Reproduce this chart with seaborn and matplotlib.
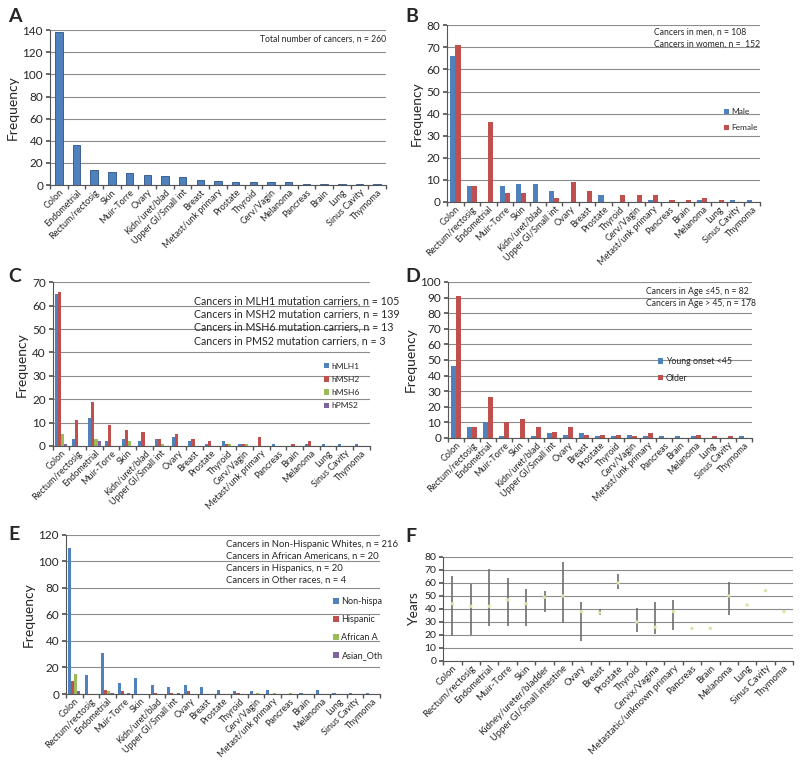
import numpy as np
import pandas as pd
import matplotlib
matplotlib.use("Agg")
import matplotlib.pyplot as plt
import seaborn as sns

# ========================
# Data
# ========================

cats_a = ["Colon", "Endometrial", "Rectum/rectosig", "Skin", "Muir-Torre", "Ovary",
          "Kidn/uret/blad", "Upper GI/Small int", "Breast", "Metast/unk primary",
          "Prostate", "Thyroid", "Cerv/Vagin", "Melanoma", "Pancreas", "Brain",
          "Lung", "Sinus Cavity", "Thymoma"]
total_a = [138, 36, 14, 12, 11, 9, 8, 7, 5, 4, 3, 3, 3, 3, 1, 1, 1, 1, 1]

cats = ["Colon", "Rectum/rectosig", "Endometrial", "Muir-Torre", "Skin",
        "Kidn/uret/blad", "Upper GI/Small int", "Ovary", "Breast", "Prostate",
        "Thyroid", "Cerv/Vagin", "Metast/unk primary", "Pancreas", "Brain",
        "Melanoma", "Lung", "Sinus Cavity", "Thymoma"]

male = [66, 7, 0, 7, 8, 8, 5, 0, 0, 3, 0, 0, 1, 0, 0, 1, 0, 1, 1]
female = [71, 7, 36, 4, 4, 0, 2, 9, 5, 0, 3, 3, 3, 1, 1, 2, 1, 0, 0]

mlh1 = [65, 3, 12, 2, 3, 2, 3, 4, 2, 1, 2, 1, 0, 1, 0, 1, 1, 1, 1]
msh2 = [66, 11, 19, 9, 7, 6, 3, 5, 3, 2, 1, 1, 4, 0, 1, 2, 0, 0, 0]
msh6 = [5, 0, 3, 0, 2, 0, 1, 0, 0, 0, 1, 1, 0, 0, 0, 0, 0, 0, 0]
pms2 = [1, 0, 2, 0, 0, 0, 0, 0, 0, 0, 0, 0, 0, 0, 0, 0, 0, 0, 0]

young = [46, 7, 10, 1, 0, 1, 3, 2, 3, 1, 1, 2, 1, 1, 1, 1, 0, 0, 1]
older = [91, 7, 26, 10, 12, 7, 4, 7, 2, 2, 2, 1, 3, 0, 0, 2, 1, 1, 0]

non_hisp = [110, 14, 31, 8, 12, 7, 5, 7, 5, 3, 2, 2, 3, 0, 1, 3, 1, 1, 1]
hispanic = [10, 0, 3, 2, 0, 1, 1, 2, 0, 0, 1, 0, 0, 0, 0, 0, 0, 0, 0]
african = [15, 0, 2, 0, 0, 0, 0, 0, 0, 0, 0, 1, 1, 1, 0, 0, 0, 0, 0]
asian_oth = [2, 0, 1, 1, 0, 0, 1, 0, 0, 0, 0, 0, 0, 0, 0, 0, 0, 0, 0]

cats_f = ["Colon", "Rectum/rectosig", "Endometrial", "Muir-Torre", "Skin",
          "Kidney/ureter/bladder", "Upper GI/Small intestine", "Ovary", "Breast",
          "Prostate", "Thyroid", "Cervix/Vagina", "Metastatic/unknown primary",
          "Pancreas", "Brain", "Melanoma", "Lung", "Sinus Cavity", "Thymoma"]
age_min = [19, 20, 27, 27, 27, 38, 29, 15, 35, 55, 22, 21, 24, 25, 25, 35, 43, 54, 38]
age_max = [65, 59, 71, 64, 55, 54, 76, 45, 40, 67, 41, 45, 47, 25, 25, 61, 43, 54, 38]
age_med = [44, 42, 42, 47, 44, 49, 50, 38, 37, 60, 30, 26, 38, 25, 25, 50, 43, 54, 38]

BLUE, RED, GREEN, PURPLE = "#4F81BD", "#C0504D", "#9BBB59", "#8064A2"

sns.set_theme(style="white")
plt.rcParams["font.family"] = ["Lato", "DejaVu Sans"]

fig = plt.figure(figsize=(8, 7.65), dpi=100)


def style_axis(ax, ymax, ystep, ylabel="Frequency", xfont=6.5, yfont=8.5):
    n = len(ax.get_xticks())
    ax.set_xlim(-0.5, n - 0.5)
    ax.set_ylim(0, ymax)
    ax.set_yticks(np.arange(0, ymax + 1, ystep))
    ax.yaxis.grid(True, color="#8c8c8c", lw=0.8)
    ax.xaxis.grid(False)
    ax.set_axisbelow(True)
    for s in ["top", "right"]:
        ax.spines[s].set_visible(False)
    for s in ["left", "bottom"]:
        ax.spines[s].set_color("#555555")
        ax.spines[s].set_linewidth(0.8)
    ax.set_xticks(np.arange(-0.5, n), minor=True)
    ax.tick_params(axis="x", which="major", length=0, pad=2)
    ax.tick_params(axis="x", which="minor", length=3, color="#555555", direction="out", bottom=True)
    ax.tick_params(axis="y", length=3, color="#555555", direction="out", left=True,
                   labelsize=yfont, pad=2)
    for lab in ax.get_xticklabels():
        lab.set_rotation(45)
        lab.set_ha("right")
        lab.set_rotation_mode("anchor")
        lab.set_fontsize(xfont)
    ax.set_xlabel("")
    ax.set_ylabel(ylabel, fontsize=10, labelpad=3)


def grouped(ax, series, names, colors, width):
    df = pd.DataFrame({"cat": np.tile(cats, len(series)),
                       "grp": np.repeat(names, len(cats)),
                       "val": np.concatenate(series)})
    sns.barplot(data=df, x="cat", y="val", hue="grp", order=cats, hue_order=names,
                palette=colors, width=width, saturation=1, ax=ax, legend=True,
                edgecolor="none")


def legend(ax, x, y, spacing=0.9, size=6.5):
    leg = ax.legend(loc="upper left", bbox_to_anchor=(x, y), frameon=False,
                    fontsize=size, handlelength=0.6, handleheight=0.6,
                    handletextpad=0.3, labelspacing=spacing, borderaxespad=0)
    return leg


# ---- A
ax = fig.add_axes([0.0625, 0.758, 0.42, 0.2026])
sns.barplot(x=cats_a, y=total_a, color=BLUE, saturation=1, width=0.42, ax=ax,
            edgecolor="#2c5282", linewidth=0.6)
style_axis(ax, 140, 20)
ax.text(1.0, 0.97, "Total number of cancers, n = 260", transform=ax.transAxes,
        ha="right", va="top", fontsize=6.2)

# ---- B
ax = fig.add_axes([0.559, 0.736, 0.391, 0.231])
grouped(ax, [male, female], ["Male", "Female"], [BLUE, RED], 0.62)
style_axis(ax, 80, 10)
legend(ax, 0.875, 0.55, 1.1, 6)
ax.text(0.66, 0.985, "Cancers in men, n = 108\nCancers in women, n =  152",
        transform=ax.transAxes, ha="left", va="top", fontsize=6.2, linespacing=1.45)

# ---- C
ax = fig.add_axes([0.066, 0.417, 0.396, 0.214])
grouped(ax, [mlh1, msh2, msh6, pms2], ["hMLH1", "hMSH2", "hMSH6", "hPMS2"],
        [BLUE, RED, GREEN, PURPLE], 0.75)
style_axis(ax, 70, 10)
legend(ax, 0.845, 0.53, 0.75, 6)
ax.text(0.445, 0.92,
        "Cancers in MLH1 mutation carriers, n = 105\n"
        "Cancers in MSH2 mutation carriers, n = 139\n"
        "Cancers in MSH6 mutation carriers, n = 13\n"
        "Cancers in PMS2 mutation carriers, n = 3",
        transform=ax.transAxes, ha="left", va="top", fontsize=7.7, linespacing=1.25)

# ---- D
ax = fig.add_axes([0.56, 0.4275, 0.38, 0.204])
grouped(ax, [young, older], ["Young onset <45", "Older"], [BLUE, RED], 0.62)
style_axis(ax, 100, 10)
legend(ax, 0.68, 0.54, 0.85, 6.3)
ax.text(0.65, 0.97, "Cancers in Age \u226445, n = 82\nCancers in Age > 45, n = 178",
        transform=ax.transAxes, ha="left", va="top", fontsize=6.2, linespacing=1.5)

# ---- E
ax = fig.add_axes([0.0825, 0.0928, 0.3925, 0.208])
grouped(ax, [non_hisp, hispanic, african, asian_oth],
        ["Non-hispa", "Hispanic", "African A", "Asian_Oth"],
        [BLUE, RED, GREEN, PURPLE], 0.75)
style_axis(ax, 120, 20)
legend(ax, 0.84, 0.63, 1.0, 6.5)
ax.text(0.51, 0.97,
        "Cancers in Non-Hispanic Whites, n = 216\n"
        "Cancers in African Americans, n = 20\n"
        "Cancers in Hispanics, n = 20\n"
        "Cancers in Other races, n = 4",
        transform=ax.transAxes, ha="left", va="top", fontsize=6.8, linespacing=1.45)

# ---- F
ax = fig.add_axes([0.554, 0.136, 0.4375, 0.136])
xf = np.arange(len(cats_f))
ranges = np.array(age_max) > np.array(age_min)
ax.vlines(xf[ranges], np.array(age_min)[ranges], np.array(age_max)[ranges],
          color="#6e6e6e", lw=1.2)
sns.scatterplot(x=xf, y=age_med, color="#d7e4a8", s=6, edgecolor="none", ax=ax,
                zorder=3)
ax.set_xticks(xf)
ax.set_xticklabels(cats_f)
style_axis(ax, 80, 10, ylabel="Years", xfont=6.8, yfont=7.5)

# panel letters
for lab, x, y in [("A", 8, 22), ("B", 405, 22), ("C", 8, 282), ("D", 405, 282),
                  ("E", 8, 540), ("F", 405, 542)]:
    fig.text(x / 800, 1 - y / 765, lab, fontsize=14, fontweight="bold")

fig.savefig("out.png", dpi=100)
